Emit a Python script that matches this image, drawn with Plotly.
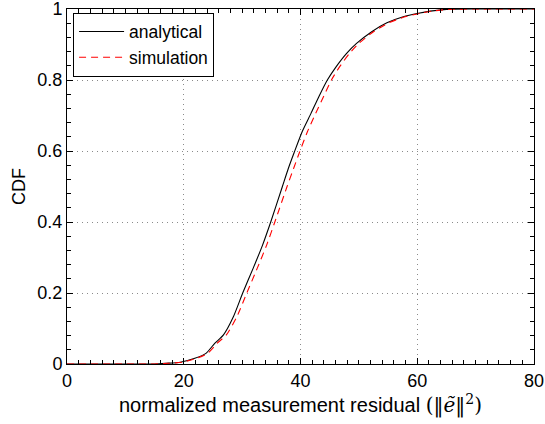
import plotly.graph_objects as go

# analytical CDF (black)
x_analytical = [0, 10, 15, 17, 19.4, 21.9, 23.8, 25.3, 26.8, 28.5, 30.1, 31.9, 33.5, 34.9, 36.9, 37.9,
                38.9, 40.3, 41.8, 43.2, 44.6, 46.0, 47.9, 49.6, 52.2, 54.8, 57.6, 60.2, 62.2, 65, 70, 80]
y_analytical = [0, 0, 0, 0.002, 0.005, 0.016, 0.030, 0.058, 0.082, 0.133, 0.20, 0.27, 0.335, 0.40, 0.50, 0.55,
                0.595, 0.655, 0.706, 0.755, 0.80, 0.835, 0.875, 0.903, 0.936, 0.961, 0.978, 0.988, 0.994, 0.999, 1, 1]

# simulation CDF (red dashed)
x_simulation = [0, 10, 15, 17.3, 19.7, 22.2, 24.1, 25.7, 27.3, 29.1, 30.8, 32.6, 34.2, 35.6, 37.7, 38.8,
                39.8, 41.2, 42.6, 44.0, 45.3, 46.6, 48.4, 50.0, 52.5, 55.1, 57.9, 60.5, 62.5, 65.5, 70, 80]
y_simulation = [0, 0, 0, 0.002, 0.005, 0.016, 0.030, 0.058, 0.082, 0.133, 0.20, 0.27, 0.335, 0.40, 0.50, 0.55,
                0.595, 0.655, 0.706, 0.755, 0.80, 0.835, 0.875, 0.903, 0.936, 0.961, 0.978, 0.988, 0.994, 0.999, 1, 1]

x_ticks = [0, 20, 40, 60, 80]
y_ticks = [0, 0.2, 0.4, 0.6, 0.8, 1]
y_tick_labels = ["0", "0.2", "0.4", "0.6", "0.8", "1"]

FONT = "Liberation Sans, Arial, Helvetica, sans-serif"

fig = go.Figure()
fig.add_trace(go.Scatter(x=x_analytical, y=y_analytical, mode="lines", name="analytical",
                         line=dict(color="black", width=1.1, shape="spline", smoothing=0.6)))
fig.add_trace(go.Scatter(x=x_simulation, y=y_simulation, mode="lines", name="simulation",
                         line=dict(color="#ff0000", width=1.1, dash="7px,5px", shape="spline", smoothing=0.6)))

axis_common = dict(
    showline=True, linecolor="black", linewidth=1, mirror="ticks",
    ticks="inside", ticklen=6, tickcolor="black", tickwidth=1,
    showgrid=True, gridcolor="#8a8a8a", griddash="1px,4px", gridwidth=1,
    zeroline=False, automargin=False, ticklabeloverflow="allow",
    tickfont=dict(size=18, color="black", family=FONT),
)

fig.update_xaxes(range=[0, 80], tickvals=x_ticks,
                 minor=dict(dtick=2, ticks="inside", ticklen=4, tickcolor="black", showgrid=False),
                 title=dict(text="normalized measurement residual <span style='font-family:DejaVu Serif, serif'>(‖<i>ẽ</i>‖<sup>2</sup>)</span>",
                            font=dict(size=20, color="black", family=FONT), standoff=5),
                 **axis_common)
fig.update_yaxes(range=[0, 1], tickvals=y_ticks, ticktext=y_tick_labels,
                 minor=dict(dtick=0.04, ticks="inside", ticklen=4, tickcolor="black", showgrid=False),
                 title=dict(text="CDF", font=dict(size=18, color="black", family=FONT), standoff=7),
                 **axis_common)

fig.update_layout(
    width=545, height=424,
    margin=dict(l=67, r=11, t=9, b=60),
    paper_bgcolor="white", plot_bgcolor="white",
    font=dict(family=FONT, color="black"),
    legend=dict(x=0.013, y=0.99, xanchor="left", yanchor="top",
                bgcolor="white", bordercolor="black", borderwidth=1,
                font=dict(size=17.5, color="black", family=FONT),
                tracegroupgap=0, itemwidth=45),
    showlegend=True,
)

fig.write_html("out.html", config={"displayModeBar": False},
               post_script="document.body.style.margin='0';document.body.style.overflow='hidden';")
